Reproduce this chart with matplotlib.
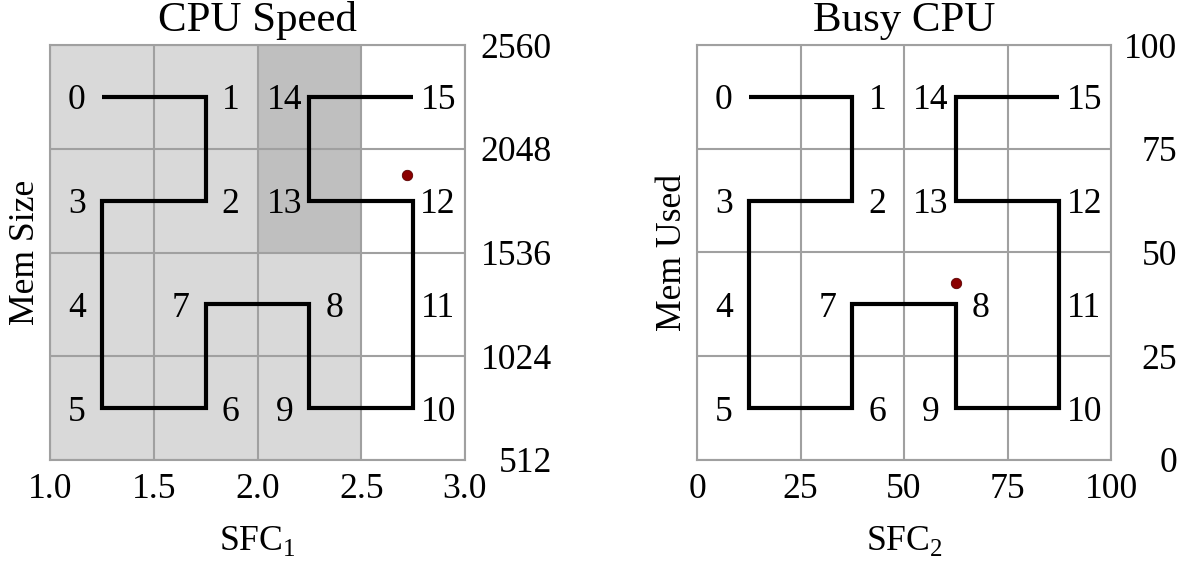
import numpy as np
import matplotlib
matplotlib.use('Agg')
import matplotlib.pyplot as plt
from matplotlib import font_manager

plt.rcParams['font.family'] = 'serif'
plt.rcParams['font.serif'] = ['Liberation Serif', 'Times New Roman', 'DejaVu Serif']
plt.rcParams['mathtext.fontset'] = 'custom'
plt.rcParams['mathtext.rm'] = 'Liberation Serif'
plt.rcParams['font.size'] = 25.7

# fail loudly if the serif face is missing
serif_path = font_manager.findfont('Liberation Serif', fallback_to_default=False)

# Hilbert curve order on a 4x4 grid (column, row from bottom)
curve_cols = [0, 1, 1, 0, 0, 0, 1, 1, 2, 2, 3, 3, 3, 2, 2, 3]
curve_rows = [3, 3, 2, 2, 1, 0, 0, 1, 1, 0, 0, 1, 2, 2, 3, 3]
label_side = ['L', 'R', 'R', 'L', 'L', 'L', 'R', 'L', 'R', 'L', 'R', 'R', 'R', 'L', 'L', 'R']

# left panel: CPU speed vs memory size
cpu_ticks = [1.0, 1.5, 2.0, 2.5, 3.0]
mem_size_ticks = [512, 1024, 1536, 2048, 2560]
sample_1 = (2.72, 1920)

# right panel: busy CPU vs memory used (percent)
busy_ticks = [0, 25, 50, 75, 100]
mem_used_ticks = [0, 25, 50, 75, 100]
sample_2 = (62.6, 42.7)

GRID = '#a0a0a0'
LIGHT = '#d9d9d9'
DARK = '#bfbfbf'


def cell_centers(edges):
    edges = np.asarray(edges, dtype=float)
    return (edges[:-1] + edges[1:]) / 2


def draw_panel(ax, xt, yt, title, xlabel, ylabel, sample, ypad):
    ax.set_xlim(xt[0], xt[-1])
    ax.set_ylim(yt[0], yt[-1])
    ax.set_xticks(xt)
    ax.set_yticks(yt)
    ax.grid(True, color=GRID, lw=1.5, zorder=1)
    for s in ax.spines.values():
        s.set_color(GRID)
        s.set_linewidth(1.5)
    ax.tick_params(axis='both', length=0)
    ax.tick_params(axis='x', pad=9)
    ax.tick_params(axis='y', labelleft=False, labelright=True, pad=ypad)
    for lab in ax.get_yticklabels():
        lab.set_horizontalalignment('right')

    xc = cell_centers(xt)
    yc = cell_centers(yt)
    px = [xc[c] for c in curve_cols]
    py = [yc[r] for r in curve_rows]
    ax.plot(px, py, color='black', lw=3, solid_joinstyle='miter',
            solid_capstyle='butt', zorder=3)
    for i, (x, y) in enumerate(zip(px, py)):
        dx = -18 if label_side[i] == 'L' else 18
        ax.annotate(str(i), (x, y), xytext=(dx, 0), textcoords='offset points',
                    ha='center', va='center_baseline', zorder=4)
    ax.plot([sample[0]], [sample[1]], 'o', color='#8b0000', mec='#5a0000',
            mew=0.6, ms=7.5, zorder=5)

    ax.set_title(title, pad=10)
    ax.set_xlabel(xlabel, labelpad=13)
    ax.set_ylabel(ylabel, labelpad=6)


fig = plt.figure(figsize=(11.87, 5.65), dpi=100)
ax1 = fig.add_axes([50 / 1187, 1 - 460 / 565, 415 / 1187, 415 / 565])
ax2 = fig.add_axes([697 / 1187, 1 - 460 / 565, 414 / 1187, 415 / 565])

# shaded columns in the CPU speed panel
ax1.axvspan(cpu_ticks[0], cpu_ticks[3], color=LIGHT, lw=0, zorder=0)
ax1.fill_between([cpu_ticks[2], cpu_ticks[3]], mem_size_ticks[2], mem_size_ticks[4],
                 color=DARK, lw=0, zorder=0.5)

draw_panel(ax1, cpu_ticks, mem_size_ticks, 'CPU Speed', r'SFC$_{\mathrm{1}}$',
           'Mem Size', sample_1, 62.6)
draw_panel(ax2, busy_ticks, mem_used_ticks, 'Busy CPU', r'SFC$_{\mathrm{2}}$',
           'Mem Used', sample_2, 47.5)

fig.savefig('out.png', dpi=100)
